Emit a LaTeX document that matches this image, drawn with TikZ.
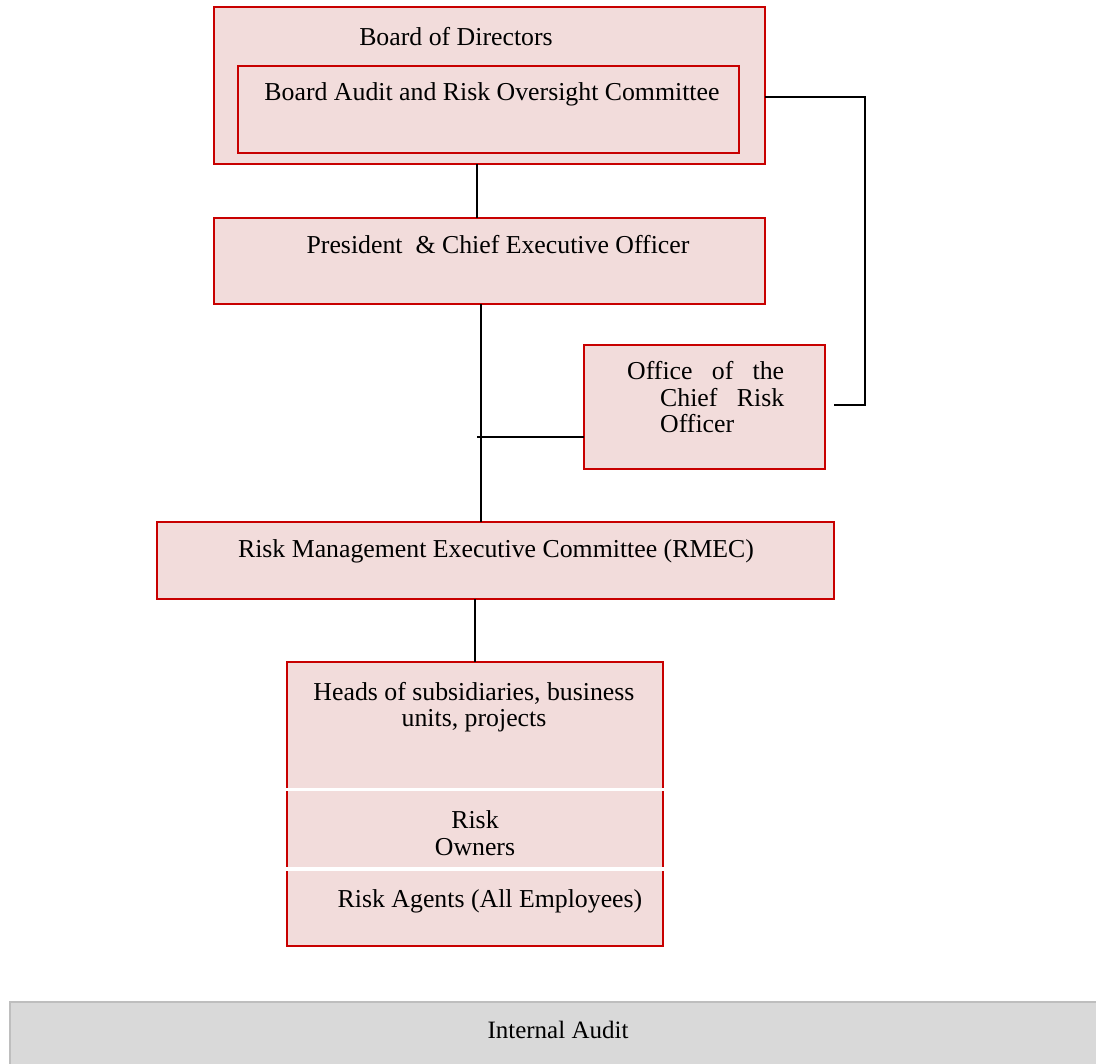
\documentclass[tikz,border=0pt]{standalone}
\usepackage{fontspec}
\setmainfont{Liberation Serif}
\definecolor{boxred}{RGB}{200,0,0}
\definecolor{boxpink}{RGB}{242,220,219}
\definecolor{iagray}{RGB}{217,217,217}
\definecolor{iaborder}{RGB}{190,190,190}
\tikzset{
  box/.style={draw=boxred, fill=boxpink, line width=1.6pt, inner sep=0pt, outer sep=0pt, anchor=north west},
  fillbox/.style={fill=boxpink, inner sep=0pt, outer sep=0pt, anchor=north west},
  redline/.style={draw=boxred, line width=1.6pt},
  conn/.style={draw=black, line width=1.6pt},
  txt/.style={font=\fontsize{25.8}{27}\selectfont, inner sep=0pt, anchor=base},
}
\begin{document}
\begin{tikzpicture}[x=1pt,y=-1pt]
\useasboundingbox (0,0) rectangle (1096,1064);
% Internal audit band
\node[fill=iagray, inner sep=0pt, outer sep=0pt, anchor=north west, minimum width=1090, minimum height=70] (ia) at (10,1002) {};
\draw[draw=iaborder, line width=2pt] (10,1070) -- (10,1002) -- (1100,1002);
\node[txt, font=\fontsize{25}{27}\selectfont] (iat) at (558,1038) {Internal Audit};

% Board
\node[box, minimum width=551, minimum height=157] (board) at (214,7) {};
\node[box, minimum width=501, minimum height=87] (baroc) at (238,66) {};
\node[txt] (boardt) at (456,46) {Board of Directors};
\node[txt] (baroct) at (492,101) {Board Audit and Risk Oversight Committee};

% CEO
\node[box, minimum width=551, minimum height=86] (ceo) at (214,218) {};
\node[txt] (ceot) at (498,254) {President \ \& Chief Executive Officer};

% CRO
\node[box, minimum width=241, minimum height=124] (cro) at (584,345) {};
\node[txt, anchor=base west] (crot1) at (627,380) {\makebox[157pt][s]{Office of the}};
\node[txt, anchor=base west] (crot2) at (660,407) {\makebox[124pt][s]{Chief Risk}};
\node[txt, anchor=base west] (crot3) at (660,433) {Officer};

% RMEC
\node[box, minimum width=677, minimum height=77] (rmec) at (157,522) {};
\node[txt] (rmect) at (496,558) {Risk Management Executive Committee (RMEC)};

% Stacked boxes
\node[fillbox, minimum width=376, minimum height=126] (heads) at (287,662) {};
\node[fillbox, minimum width=376, minimum height=76] (owners) at (287,791) {};
\node[fillbox, minimum width=376, minimum height=75] (agents) at (287,871) {};
\draw[redline] (heads.south west) -- (heads.north west) -- (heads.north east) -- (heads.south east);
\draw[redline] (owners.north west) -- (owners.south west);
\draw[redline] (owners.north east) -- (owners.south east);
\draw[redline] (agents.north west) -- (agents.south west) -- (agents.south east) -- (agents.north east);
\node[txt] (headst1) at (474,700) {Heads of subsidiaries, business};
\node[txt] (headst2) at (474,726) {units, projects};
\node[txt] (ownerst1) at (475,828) {Risk};
\node[txt] (ownerst2) at (475,855) {Owners};
\node[txt] (agentst) at (490,907) {Risk Agents (All Employees)};

% Connectors
\draw[conn] ([xshift=-12.5pt]board.south) -- ([xshift=-12.5pt]ceo.north);
\draw[conn] ([xshift=-8.5pt]ceo.south) -- ([xshift=-14.5pt]rmec.north);
\coordinate (junc) at (477,437);
\draw[conn] (junc) -- ([yshift=-30pt]cro.west);
\coordinate (bend) at (865,405);
\coordinate (croend) at (834,405);
\draw[conn] ([yshift=-11.5pt]board.east) -| (bend) -- (croend);
\draw[conn] ([xshift=-20.5pt]rmec.south) -- (heads.north);
\end{tikzpicture}
\end{document}
